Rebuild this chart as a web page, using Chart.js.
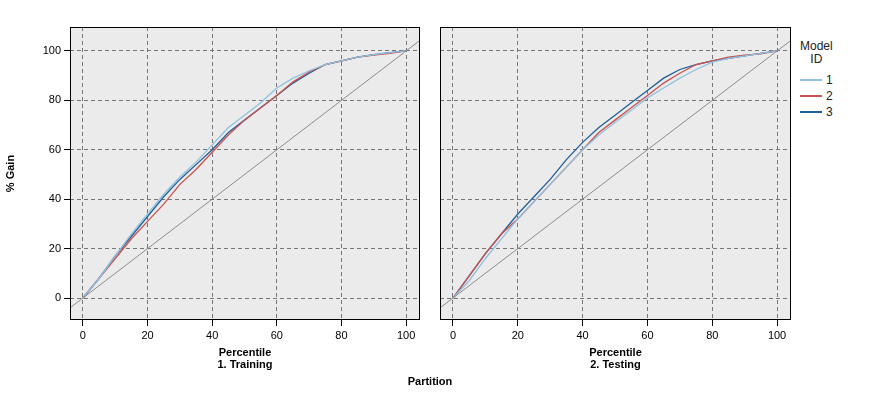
<!DOCTYPE html>
<html>
<head>
<meta charset="utf-8">
<script src="https://cdn.jsdelivr.net/npm/chart.js@4"></script>
<style>
  body { margin: 0; background: #fff; font-family: "Liberation Sans", Arial, sans-serif; }
  #wrap { position: relative; width: 877px; height: 417px; }
  canvas { position: absolute; }
  .lbl { position: absolute; font-size: 11px; font-weight: bold; color: #000; text-align: center; }
  #legend { position: absolute; left: 800px; top: 40px; font-size: 12px; color: #222; }
  #legend .row { display: flex; align-items: center; height: 16px; }
  #legend .sw { width: 22px; height: 0; border-top: 2px solid; margin-right: 4px; }
</style>
</head>
<body>
<div id="wrap">
  <canvas id="train" width="430" height="360" style="left:0;top:0"></canvas>
  <canvas id="test" width="370" height="360" style="left:430px;top:0"></canvas>
  <div class="lbl" style="left:70px;top:358px;width:350px">1. Training</div>
  <div class="lbl" style="left:440px;top:358px;width:351px">2. Testing</div>
  <div class="lbl" style="left:330px;top:375px;width:200px">Partition</div>
  <div id="legend">
    <div style="text-align:center;line-height:13px;margin-bottom:6px">Model<br>ID</div>
    <div class="row"><span class="sw" style="border-color:#8fc1de"></span>1</div>
    <div class="row"><span class="sw" style="border-color:#c9514f"></span>2</div>
    <div class="row"><span class="sw" style="border-color:#1f5f99"></span>3</div>
  </div>
</div>
<script>
// Percentiles
const percentiles = [0, 5, 10, 15, 20, 25, 30, 35, 40, 45, 50, 55, 60, 65, 70, 75, 80, 85, 90, 95, 100];

// % gain, training partition
const trainModel1 = [0, 8, 17, 26, 34, 42, 49, 55, 62, 69, 74, 79, 85, 89, 92, 94.5, 96, 97.5, 98.5, 99.3, 100];
const trainModel2 = [0, 8, 16, 24, 31, 38, 46, 52, 59, 66, 72, 77, 82, 87.5, 91.5, 94.5, 96, 97.5, 98.3, 99, 100];
const trainModel3 = [0, 8, 17, 25, 33, 41, 48, 54, 60, 67, 72, 77, 82, 87, 91, 94.5, 96, 97.5, 98.5, 99.3, 100];

// % gain, testing partition
const testModel1 = [0, 7, 16, 24, 32, 39, 46, 53, 60, 66, 71, 76, 81, 85, 89, 92.5, 95.5, 97, 98, 99, 100];
const testModel2 = [0, 9, 18, 26, 32, 39, 46, 53, 60, 67, 72, 77, 82, 87, 91, 94.5, 96, 97.5, 98.3, 98.8, 100];
const testModel3 = [0, 9, 18, 26, 34, 41, 48, 56, 63, 69, 74, 79, 84, 89, 92.5, 94.5, 96, 97, 98, 99, 100];

const xTicks = [0, 20, 40, 60, 80, 100];
const yTicks = [0, 20, 40, 60, 80, 100];

const colors = ['#8fc1de', '#c9514f', '#1f5f99'];

function pts(values) {
  return percentiles.map((p, i) => ({ x: p, y: values[i] }));
}

const frame = {
  id: 'frame',
  afterDraw(chart) {
    const a = chart.chartArea, ctx = chart.ctx;
    ctx.save();
    ctx.strokeStyle = '#000';
    ctx.lineWidth = 1;
    ctx.strokeRect(a.left + 0.5, a.top + 0.5, a.right - a.left - 1, a.bottom - a.top - 1);
    ctx.restore();
  },
  beforeDraw(chart) {
    const a = chart.chartArea, ctx = chart.ctx;
    ctx.save();
    ctx.fillStyle = '#ebebeb';
    ctx.fillRect(a.left, a.top, a.right - a.left, a.bottom - a.top);
    ctx.restore();
  }
};

function makeChart(id, series, showY, padLeft) {
  const font = { family: 'Liberation Sans', size: 11 };
  const datasets = series.map((s, i) => ({
    data: pts(s), borderColor: colors[i], borderWidth: 1.3, pointRadius: 0, tension: 0
  }));
  datasets.unshift({
    data: [{ x: -10, y: -10 }, { x: 110, y: 110 }], borderColor: '#8c8c8c', borderWidth: 1, pointRadius: 0
  });
  return new Chart(document.getElementById(id), {
    type: 'line',
    data: { datasets },
    options: {
      responsive: false,
      animation: false,
      layout: { padding: { top: 27, right: id === 'train' ? 10 : 9, left: padLeft } },
      plugins: { legend: { display: false }, tooltip: { enabled: false } },
      scales: {
        x: {
          type: 'linear', min: -4, max: 104.3,
          afterBuildTicks: sc => { sc.ticks = xTicks.map(v => ({ value: v })); },
          afterFit: sc => { sc.height = 40; },
          ticks: { color: '#000', font, padding: 3 },
          grid: { color: '#777', tickColor: '#000', tickLength: 6, tickBorderDash: [] },
          border: { display: false, dash: [4, 3] },
          title: { display: true, text: 'Percentile', color: '#000', font: { ...font, weight: 'bold' }, padding: { top: 2, bottom: 0 } }
        },
        y: {
          min: -8.9, max: 109.7,
          afterBuildTicks: sc => { sc.ticks = yTicks.map(v => ({ value: v })); },
          afterFit: sc => { sc.width = showY ? 70 : 0; },
          ticks: { display: showY, color: '#000', font, padding: 3 },
          grid: { color: '#777', tickColor: '#000', tickLength: showY ? 6 : 0, drawTicks: showY, tickBorderDash: [] },
          border: { display: false, dash: [4, 3] },
          title: { display: showY, text: '% Gain', color: '#000', font: { ...font, weight: 'bold' }, padding: 4 }
        }
      }
    },
    plugins: [frame]
  });
}

makeChart('train', [trainModel1, trainModel2, trainModel3], true, 0);
makeChart('test', [testModel1, testModel2, testModel3], false, 10);
</script>
</body>
</html>
